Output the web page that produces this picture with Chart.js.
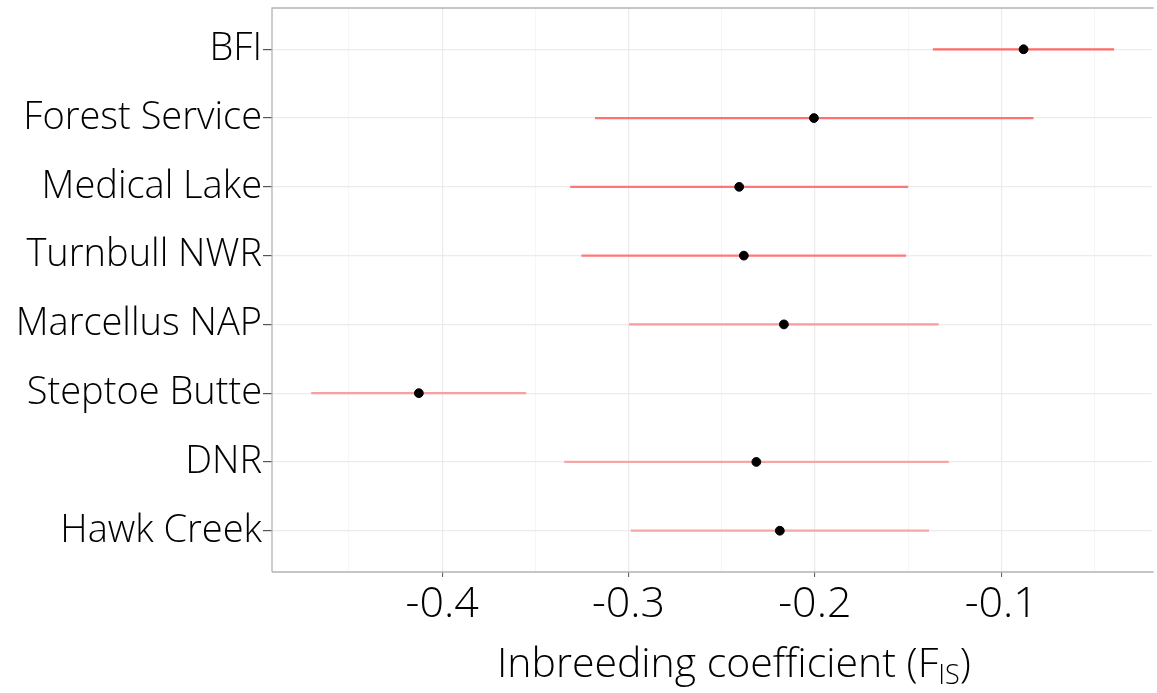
<!DOCTYPE html>
<html>
<head>
<meta charset="utf-8">
<script src="https://cdn.jsdelivr.net/npm/chart.js@4.4.1/dist/chart.umd.min.js"></script>
<title>Inbreeding coefficient</title>
<style>
  html, body { margin: 0; padding: 0; background: #fff; }
  #wrap { width: 1157px; height: 693px; }
</style>
</head>
<body>
<div id="wrap"><canvas id="myChart"></canvas></div>
<script>
// populations, top to bottom
var sites = ['BFI', 'Forest Service', 'Medical Lake', 'Turnbull NWR', 'Marcellus NAP', 'Steptoe Butte', 'DNR', 'Hawk Creek'];
// FIS estimate and interval
var fis   = [-0.088, -0.2005, -0.2406, -0.2381, -0.2166, -0.4125, -0.2314, -0.2188];
var lower = [-0.1365, -0.3178, -0.3311, -0.3251, -0.2995, -0.4701, -0.3343, -0.2986];
var upper = [-0.0396, -0.0829, -0.1501, -0.1512, -0.1338, -0.3551, -0.1283, -0.1389];
// x ticks (majors get a label, the others are minor gridlines)
var xTicks = [-0.45, -0.4, -0.35, -0.3, -0.25, -0.2, -0.15, -0.1, -0.05];

// bar colours fade a bit from top to bottom
var barColors = ['#ff6b6b', '#ff7070', '#ff7676', '#ff7a7a', '#f79c9c', '#f7a0a0', '#f4a6a6', '#f4a8a8'];

var FONT = '"Open Sans", Lato, sans-serif';

function isMajor(v) {
    return Math.round(v * 100) % 10 === 0;
}

var intervals = sites.map(function (s, i) { return { y: i + 1, x: [lower[i], upper[i]] }; });
var points = sites.map(function (s, i) { return { y: i + 1, x: fis[i] }; });

// panel border + axis title with subscript
var extras = {
    id: 'extras',
    afterDraw: function (chart) {
        var ctx = chart.ctx, a = chart.chartArea;
        ctx.save();
        ctx.strokeStyle = '#b3b3b3';
        ctx.lineWidth = 1.3;
        ctx.beginPath();
        ctx.moveTo(a.left, a.bottom);
        ctx.lineTo(a.left, a.top);
        ctx.lineTo(a.right + 2, a.top);
        ctx.moveTo(a.left, a.bottom);
        ctx.lineTo(a.right + 2, a.bottom);
        ctx.stroke();

        var main = 'Inbreeding coefficient (F', sub = 'IS', close = ')';
        ctx.fillStyle = '#000';
        ctx.textBaseline = 'alphabetic';
        ctx.font = '300 41px ' + FONT;
        var w1 = ctx.measureText(main).width, w3 = ctx.measureText(close).width;
        ctx.font = '300 27px ' + FONT;
        var w2 = ctx.measureText(sub).width;
        var cx = a.left + 462;
        var x0 = cx - (w1 + w2 + w3) / 2, base = 677;
        ctx.textAlign = 'left';
        ctx.font = '300 41px ' + FONT;
        ctx.fillText(main, x0, base);
        ctx.font = '300 27px ' + FONT;
        ctx.fillText(sub, x0 + w1, base + 7);
        ctx.font = '300 41px ' + FONT;
        ctx.fillText(close, x0 + w1 + w2, base);
        ctx.restore();
    }
};

var config = {
    type: 'bar',
    data: {
        datasets: [{
            type: 'scatter',
            data: points,
            backgroundColor: '#000',
            borderColor: '#000',
            pointRadius: 4.4,
            pointHoverRadius: 4.4,
            order: 0
        }, {
            type: 'bar',
            data: intervals,
            backgroundColor: barColors,
            borderWidth: 0,
            barThickness: 1.6,
            order: 1
        }]
    },
    options: {
        indexAxis: 'y',
        responsive: true,
        maintainAspectRatio: false,
        animation: false,
        layout: { padding: { top: 8, right: 0, left: 0, bottom: 0 } },
        plugins: {
            legend: { display: false },
            tooltip: { enabled: false }
        },
        scales: {
            x: {
                type: 'linear',
                position: 'bottom',
                min: -0.4913,
                max: -0.0193,
                afterBuildTicks: function (s) {
                    s.ticks = xTicks.map(function (v) { return { value: v }; });
                },
                afterFit: function (s) {
                    s.height = 121;
                    s.paddingLeft = 0;
                    s.paddingRight = 0;
                },
                border: { display: false },
                grid: {
                    color: function (c) { return isMajor(c.tick.value) ? '#ebebeb' : '#f4f4f4'; },
                    lineWidth: function (c) { return isMajor(c.tick.value) ? 1.2 : 0.8; },
                    tickColor: function (c) { return isMajor(c.tick.value) ? '#555' : 'rgba(0,0,0,0)'; },
                    tickLength: 5,
                    tickWidth: 1
                },
                ticks: {
                    autoSkip: false,
                    maxRotation: 0,
                    padding: 2,
                    color: '#000',
                    font: { family: FONT, size: 43, weight: 300 },
                    callback: function (v) { return isMajor(v) ? v.toFixed(1) : ''; }
                }
            },
            y: {
                type: 'linear',
                reverse: true,
                offset: false,
                min: 0.4,
                max: 8.6,
                afterBuildTicks: function (s) {
                    s.ticks = sites.map(function (n, i) { return { value: i + 1 }; });
                },
                afterFit: function (s) {
                    s.width = 272;
                    s.paddingTop = 0;
                    s.paddingBottom = 0;
                },
                border: { display: false },
                grid: {
                    offset: false,
                    color: '#ebebeb',
                    lineWidth: 1.2,
                    tickColor: '#555',
                    tickLength: 9
                },
                ticks: {
                    autoSkip: false,
                    padding: 1,
                    color: '#000',
                    font: { family: FONT, size: 38, weight: 300 },
                    callback: function (v) { return sites[v - 1]; }
                }
            }
        }
    },
    plugins: [extras]
};

var myChart = new Chart(document.getElementById('myChart'), config);
</script>
</body>
</html>
